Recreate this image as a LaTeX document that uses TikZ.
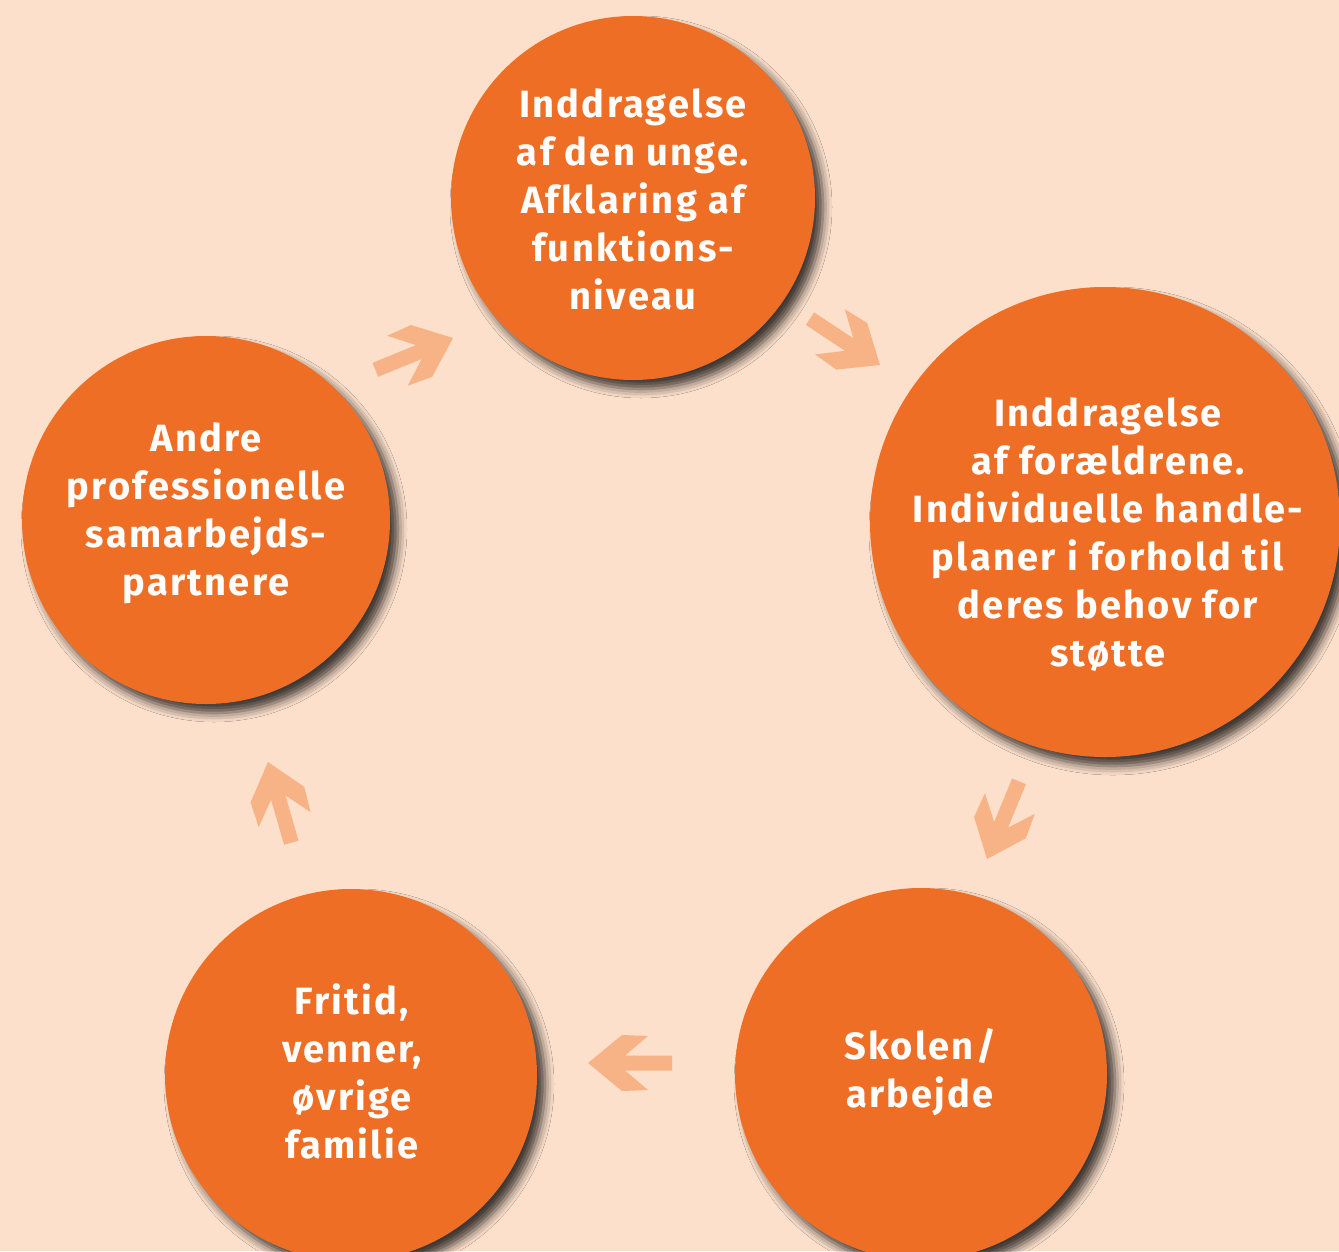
\documentclass[tikz,border=0pt]{standalone}
\usepackage{fontspec}
\setmainfont{Fira Sans}[LetterSpace=6]
\usetikzlibrary{shadows.blur}
\definecolor{bg}{HTML}{FCE0CC}
\definecolor{circ}{HTML}{EE6E26}
\definecolor{arr}{HTML}{F7B285}
\newcommand\blockarrow[3]{\fill[arr, shift={(#1,#2)}, rotate=#3] (0,0) -- (-34,28) -- (-60,27) -- (-37,7.5) -- (-84,7.5) -- (-84,-7.5) -- (-37,-7.5) -- (-60,-27) -- (-34,-28) -- cycle;}
\begin{document}
\begin{tikzpicture}[x=1pt,y=1pt,
 bubble/.style={circle, fill=circ, inner sep=0pt, minimum size=#1,
   blur shadow={shadow xshift=8pt, shadow yshift=-9pt, shadow blur radius=9pt, shadow opacity=75}},
 lbl/.style={text=white, font=\fontsize{38}{48}\selectfont\bfseries, align=center, inner sep=0pt}]
\fill[bg] (0,0) rectangle (1339,-1251);
\useasboundingbox (0,0) rectangle (1339,-1251);
\clip (0,0) rectangle (1339,-1251);
\node[bubble=364pt] (c1) at (633,-198) {};
\node[bubble=470pt] (c2) at (1105,-522) {};
\node[bubble=372pt] (c3) at (921,-1074) {};
\node[bubble=372pt] (c4) at (351,-1075) {};
\node[bubble=368pt] (c5) at (206,-520) {};
\node[lbl] (t1) at (633,-199) {Inddragelse\\af den unge.\\Afklaring af\\funktions-\\niveau};
\node[lbl] (t2) at (1108,-535) {Inddragelse\\af forældrene.\\Individuelle handle-\\planer i forhold til\\deres behov for\\støtte};
\node[lbl] (t3) at (920,-1072) {Skolen/\\arbejde};
\node[lbl] (t4) at (352,-1071) {Fritid,\\venner,\\øvrige\\familie};
\node[lbl] (t5) at (206,-513) {Andre\\professionelle\\samarbejds-\\partnere};
\blockarrow{453}{-338}{22.3}
\blockarrow{880}{-365}{-33.5}
\blockarrow{987}{-859}{-112.4}
\blockarrow{588}{-1063}{180}
\blockarrow{268}{-762}{106.1}
\end{tikzpicture}
\end{document}
